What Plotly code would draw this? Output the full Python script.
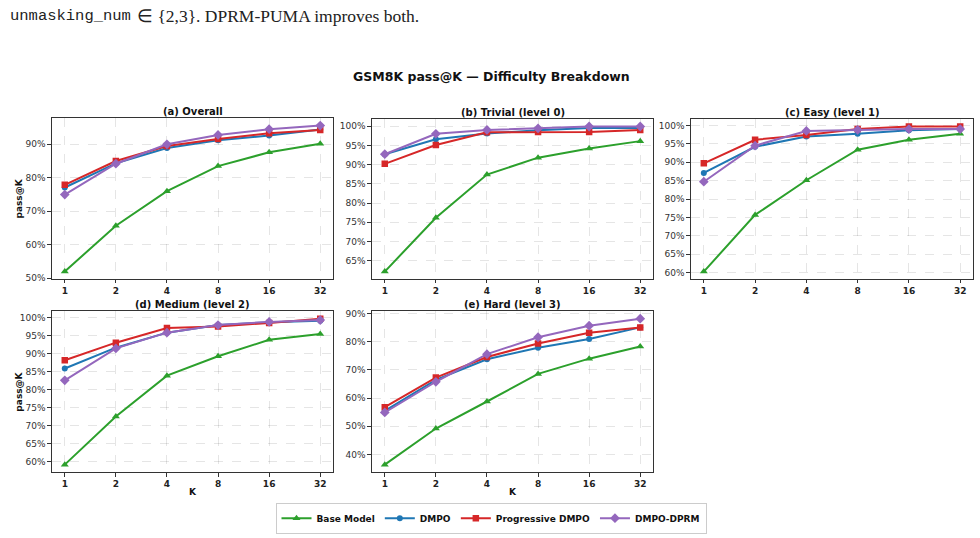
import plotly.graph_objects as go
import math

K = [1, 2, 4, 8, 16, 32]
tick_labels = ["1", "2", "4", "8", "16", "32"]
series_names = ["Base Model", "DMPO", "Progressive DMPO", "DMPO-DPRM"]
panel_titles = ["(a) Overall", "(b) Trivial (level 0)", "(c) Easy (level 1)",
                "(d) Medium (level 2)", "(e) Hard (level 3)"]

# pass@K values (%) per panel, per series
overall_base = [52.0, 65.7, 76.0, 83.5, 87.6, 90.2]
overall_dmpo = [77.1, 84.3, 88.9, 91.2, 92.6, 94.4]
overall_prog = [77.9, 85.0, 89.5, 91.6, 93.3, 94.3]
overall_dprm = [75.0, 84.2, 90.0, 92.8, 94.5, 95.6]

trivial_base = [62.2, 76.2, 87.4, 91.8, 94.2, 96.1]
trivial_dmpo = [92.7, 96.6, 98.1, 98.9, 99.5, 99.5]
trivial_prog = [90.2, 95.1, 98.4, 98.5, 98.5, 99.0]
trivial_dprm = [92.7, 98.0, 99.0, 99.4, 99.9, 99.9]

easy_base = [60.3, 75.7, 85.1, 93.4, 96.1, 97.7]
easy_dmpo = [87.1, 94.2, 97.0, 97.7, 98.7, 99.0]
easy_prog = [89.7, 96.1, 97.4, 99.0, 99.7, 99.7]
easy_dprm = [84.7, 94.5, 98.5, 98.8, 99.0, 99.0]

medium_base = [59.1, 72.5, 83.9, 89.3, 93.9, 95.5]
medium_dmpo = [85.9, 91.7, 95.9, 98.0, 98.8, 99.2]
medium_prog = [88.2, 93.1, 97.2, 97.6, 98.6, 99.8]
medium_dprm = [82.6, 91.5, 95.9, 98.0, 98.9, 99.4]

hard_base = [36.4, 49.2, 58.8, 68.6, 74.0, 78.3]
hard_dmpo = [55.5, 66.5, 73.8, 77.9, 81.0, 85.1]
hard_prog = [56.8, 67.3, 74.6, 79.4, 83.2, 85.1]
hard_dprm = [54.9, 65.8, 75.6, 81.6, 85.7, 88.2]

panels = [
    [overall_base, overall_dmpo, overall_prog, overall_dprm],
    [trivial_base, trivial_dmpo, trivial_prog, trivial_dprm],
    [easy_base, easy_dmpo, easy_prog, easy_dprm],
    [medium_base, medium_dmpo, medium_prog, medium_dprm],
    [hard_base, hard_dmpo, hard_prog, hard_dprm],
]
y_dticks = [10, 5, 5, 5, 10]

colors = ["#2ca02c", "#1f77b4", "#d62728", "#9467bd"]
symbols = ["triangle-up", "circle", "square", "diamond"]
msizes = [7, 6, 6.5, 7.5]

W, H = 980, 538
# pixel boxes (left, right, top, bottom)
boxes = [(52, 333, 117, 280), (372, 653, 118, 280), (691, 973, 118, 280),
         (52, 333, 313, 476), (372, 653, 313, 476)]

fig = go.Figure()
FONT = "DejaVu Sans"
xr = [math.log10(2 ** -0.25), math.log10(2 ** 5.25)]


def ann(text, px, py, size, family=FONT, color="#111", xanchor="center", angle=0):
    fig.add_annotation(text=text, xref="paper", yref="paper", x=px / W, y=1 - py / H,
                       xanchor=xanchor, yanchor="middle", showarrow=False, textangle=angle,
                       font=dict(family=family, size=size, color=color))


for i, (data, box) in enumerate(zip(panels, boxes)):
    ax = "" if i == 0 else str(i + 1)
    l, r, t, b = box
    allv = [v for s in data for v in s]
    lo, hi = min(allv), max(allv)
    pad = (hi - lo) * 0.05
    for j, s in enumerate(data):
        fig.add_trace(go.Scatter(
            x=K, y=s, mode="lines+markers", name="<b>%s</b>" % series_names[j],
            line=dict(color=colors[j], width=2),
            marker=dict(symbol=symbols[j], size=msizes[j], color=colors[j]),
            xaxis="x" + ax, yaxis="y" + ax, showlegend=(i == 0),
        ))
    common = dict(showline=True, linecolor="#333333", linewidth=1.3, mirror=True,
                  ticks="outside", ticklen=3.5, tickcolor="#333333",
                  showgrid=True, gridcolor="rgba(0,0,0,0.10)", griddash="dash",
                  gridwidth=0.8, zeroline=False)
    fig.layout["xaxis" + ax] = dict(
        domain=[l / W, r / W], anchor="y" + ax, type="log", range=xr,
        tickvals=K, ticktext=["<b>%s</b>" % t_ for t_ in tick_labels],
        tickfont=dict(family=FONT, size=9, color="#222"), **common)
    fig.layout["yaxis" + ax] = dict(
        domain=[1 - b / H, 1 - t / H], anchor="x" + ax,
        range=[lo - pad, hi + pad], dtick=y_dticks[i], tick0=0, ticksuffix="%",
        tickfont=dict(family=FONT, size=9, color="#333"), **common)
    ann("<b>%s</b>" % panel_titles[i], (l + r) / 2, t - 7, 10)

# axis labels
for (l, r, t, b) in [boxes[0], boxes[3]]:
    ann("<b>pass@K</b>", 19, (t + b) / 2, 9, angle=-90)
for (l, r, t, b) in [boxes[3], boxes[4]]:
    ann("<b>K</b>", (l + r) / 2, 496, 9)

# main title
ann("<b>GSM8K pass@K — Difficulty Breakdown</b>", 491, 75, 12.5)

# caption fragment from page
ann("unmasking_num", 8, 13, 15.5, family="Liberation Mono", color="#222", xanchor="left")
ann("∈ {2,3}. DPRM-PUMA improves both.", 135, 13, 17.5, family="Liberation Serif",
    color="#222", xanchor="left")

fig.update_layout(
    width=W, height=H, margin=dict(l=0, r=0, t=0, b=0),
    paper_bgcolor="white", plot_bgcolor="white",
    legend=dict(orientation="h", x=491 / W, y=1 - 523 / H, xanchor="center", yanchor="middle",
                bordercolor="#cccccc", borderwidth=1,
                font=dict(family=FONT, size=9, color="#111"),
                itemwidth=30, tracegroupgap=0),
)

fig.write_html("out.html")
